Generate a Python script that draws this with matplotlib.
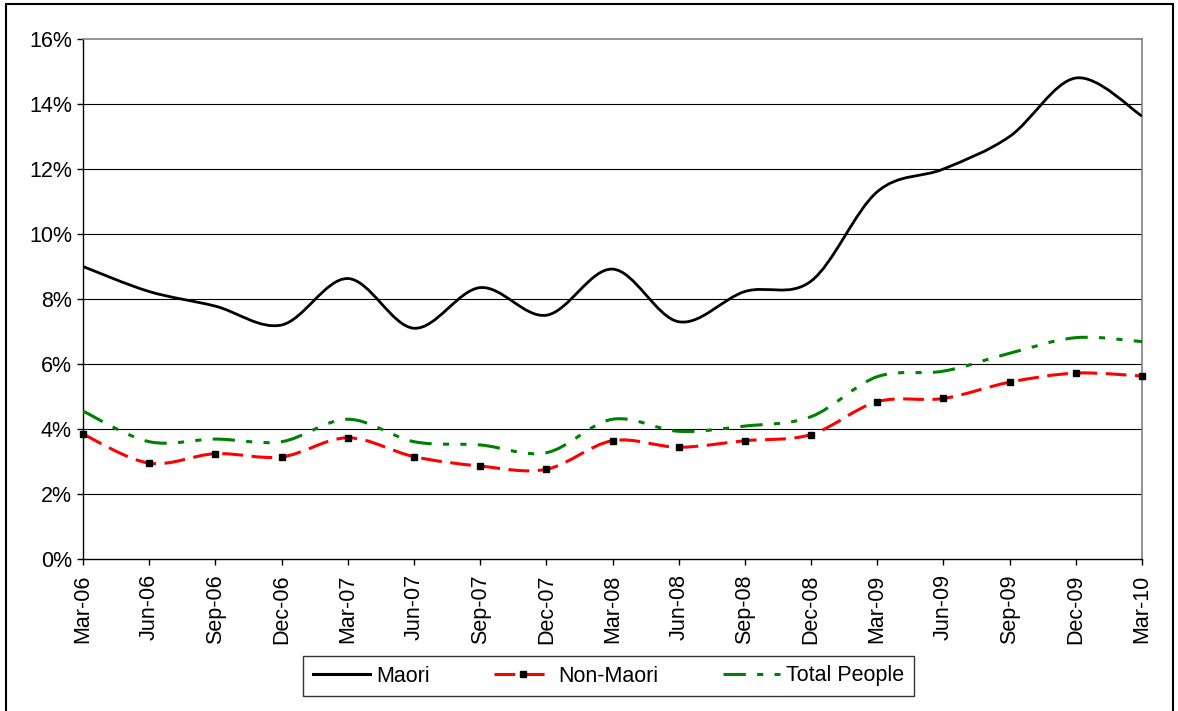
import matplotlib
matplotlib.use('Agg')
import matplotlib.pyplot as plt
from matplotlib.path import Path
from matplotlib.patches import PathPatch, Rectangle
from matplotlib.lines import Line2D
import numpy as np

plt.rcParams['font.family'] = ['Liberation Sans', 'DejaVu Sans']

quarters = ['Mar-06', 'Jun-06', 'Sep-06', 'Dec-06', 'Mar-07', 'Jun-07', 'Sep-07', 'Dec-07',
            'Mar-08', 'Jun-08', 'Sep-08', 'Dec-08', 'Mar-09', 'Jun-09', 'Sep-09', 'Dec-09', 'Mar-10']
maori = [9.0, 8.23, 7.78, 7.2, 8.63, 7.1, 8.35, 7.5, 8.92, 7.3, 8.23, 8.55, 11.3, 12.0, 13.0, 14.8, 13.63]
non_maori = [3.84, 2.95, 3.24, 3.14, 3.73, 3.15, 2.86, 2.76, 3.64, 3.44, 3.64, 3.83, 4.84, 4.94, 5.44, 5.72, 5.63]
total_people = [4.55, 3.61, 3.69, 3.61, 4.30, 3.61, 3.51, 3.27, 4.30, 3.93, 4.09, 4.38, 5.61, 5.78, 6.33, 6.81, 6.69]
y_ticks = [0, 2, 4, 6, 8, 10, 12, 14, 16]

W, H = 1178, 711
FS = 15.5
fig = plt.figure(figsize=(W / 100, H / 100), dpi=100)
ax = fig.add_axes([83 / W, 1 - 559 / H, (1142 - 83) / W, (559 - 39) / H])


def smooth_path(ys):
    xs = np.arange(len(ys), dtype=float)
    pts = np.column_stack([xs, np.asarray(ys, dtype=float)])
    n = len(pts)
    verts = [pts[0]]
    codes = [Path.MOVETO]
    for i in range(n - 1):
        p0 = pts[i - 1] if i > 0 else pts[i]
        p1 = pts[i]
        p2 = pts[i + 1]
        p3 = pts[i + 2] if i + 2 < n else pts[i + 1]
        c1 = p1 + (p2 - p0) / 6.0
        c2 = p2 - (p3 - p1) / 6.0
        verts += [c1, c2, p2]
        codes += [Path.CURVE4] * 3
    return Path(verts, codes)


lw = 2.2
non_ls = (0, (6.8, 2.8))
total_ls = (0, (7.3, 3.7, 2.0, 3.7, 2.0, 3.7))
maori_style = dict(color='black', lw=2.0, ls='-')
non_style = dict(color='#FF0000', lw=lw, ls=non_ls)
total_style = dict(color='#008000', lw=lw, ls=total_ls)

for ys, st, z in [(total_people, total_style, 3), (non_maori, non_style, 4), (maori, maori_style, 5)]:
    patch = PathPatch(smooth_path(ys), fill=False, edgecolor=st['color'], lw=st['lw'],
                      linestyle=st['ls'], capstyle='butt', joinstyle='round', zorder=z)
    ax.add_patch(patch)

ax.plot(np.arange(len(non_maori)), non_maori, ls='none', marker='s', ms=4.5,
        color='black', zorder=6, clip_on=False)

ax.set_xlim(0, len(quarters) - 1)
ax.set_ylim(0, 16)
ax.set_yticks(y_ticks)
ax.set_yticklabels([f'{v}%' for v in y_ticks], fontsize=FS)
ax.set_xticks(np.arange(len(quarters)))
ax.set_xticklabels(quarters, rotation=90, fontsize=FS)
ax.tick_params(axis='both', direction='out', length=4, width=1, color='black')
ax.tick_params(axis='y', pad=4)
ax.tick_params(axis='x', pad=7)

for v in y_ticks[1:-1]:
    ax.axhline(v, color='black', lw=0.8, zorder=1)
ax.spines['left'].set_color('black')
ax.spines['bottom'].set_color('black')
ax.spines['left'].set_linewidth(1.0)
ax.spines['bottom'].set_linewidth(1.0)
ax.spines['top'].set_color('#808080')
ax.spines['right'].set_color('#808080')
ax.spines['top'].set_linewidth(1.2)
ax.spines['right'].set_linewidth(1.2)

handles = [
    Line2D([], [], color='black', lw=2.2, ls='-'),
    Line2D([], [], color='#FF0000', lw=lw, ls=non_ls, marker='s', ms=4.5,
           mfc='black', mec='black', dash_capstyle='butt'),
    Line2D([], [], color='#008000', lw=lw, ls=total_ls, dash_capstyle='butt'),
]
leg = fig.legend(handles, ['Maori', 'Non-Maori', 'Total People'], ncol=3,
                 loc='center', bbox_to_anchor=((297 + 920) / 2 / W, 1 - 676 / H),
                 fontsize=FS, frameon=True, fancybox=False, handlelength=2.65,
                 columnspacing=3.0, handletextpad=0.3, borderpad=0.45, borderaxespad=0,
                 numpoints=1)
leg.get_frame().set_edgecolor('black')
leg.get_frame().set_linewidth(1.0)

fig.patches.append(Rectangle((6 / W, -0.02), (1173 - 6) / W, 1 - 4 / H + 0.02,
                             transform=fig.transFigure, fill=False, ec='black', lw=1.5))

fig.savefig('out.png', dpi=100)
